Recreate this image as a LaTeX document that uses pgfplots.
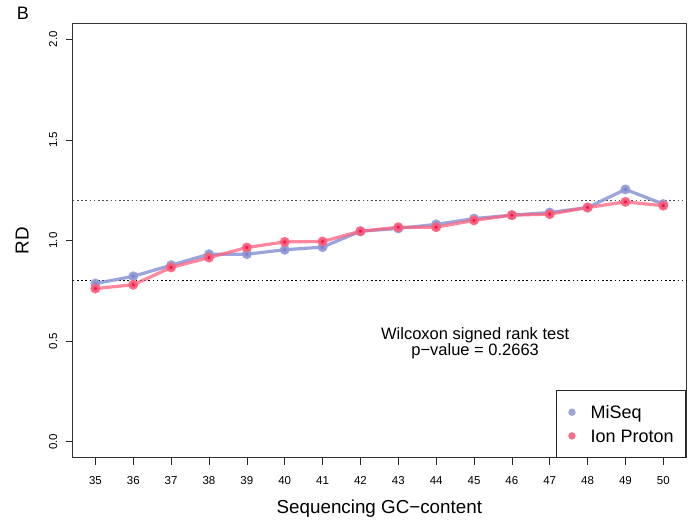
\documentclass[border=0pt]{standalone}
\usepackage{fontspec}
\setmainfont{Liberation Sans}
\usepackage{pgfplots}
\pgfplotsset{compat=1.18}
\definecolor{miseqline}{RGB}{145,155,215}
\definecolor{miseqpt}{RGB}{115,125,200}
\definecolor{ionline}{RGB}{255,95,125}
\definecolor{ionpt}{RGB}{238,10,65}
\pgfplotstableread{
x y
35 0.786
36 0.822
37 0.877
38 0.932
39 0.932
40 0.954
41 0.967
42 1.046
43 1.060
44 1.080
45 1.109
46 1.126
47 1.139
48 1.164
49 1.254
50 1.181
}\miseq
\pgfplotstableread{
x y
35 0.761
36 0.780
37 0.866
38 0.915
39 0.965
40 0.993
41 0.995
42 1.046
43 1.066
44 1.066
45 1.100
46 1.126
47 1.131
48 1.164
49 1.192
50 1.173
}\ion
\begin{document}
\begin{tikzpicture}[x=1bp,y=1bp]
\path[use as bounding box] (0,0) rectangle (695,520);
\node[anchor=base, font=\fontsize{18bp}{20bp}\selectfont] at (23,500.5) {B};
\begin{axis}[
  at={(72.7bp,62.3bp)}, anchor=south west,
  scale only axis, width=613.3bp, height=434.4bp,
  xmin=34.4, xmax=50.6, ymin=-0.08, ymax=2.08,
  xtick={35,36,...,50}, ytick={0,0.5,1,1.5,2},
  yticklabels={0.0,0.5,1.0,1.5,2.0},
  xtick pos=bottom, ytick pos=left,
  tick align=outside, major tick length=7bp,
  tick style={black!85, line width=0.7bp},
  axis line style={black!80, line width=0.7bp},
  /pgf/number format/assume math mode=true,
  ticklabel style={font=\fontsize{11.5bp}{13bp}\selectfont},
  xticklabel style={anchor=base, yshift=-19.4bp},
  yticklabel style={rotate=90, anchor=base, yshift=8.6bp},
  xlabel={Sequencing GC−content},
  ylabel={RD},
  every axis x label/.style={at={(axis description cs:0.5,0)}, anchor=base, yshift=-55.7bp, font=\fontsize{18.8bp}{21bp}\selectfont},
  every axis y label/.style={at={(axis description cs:-0.0717,0.5)}, rotate=90, anchor=base, font=\fontsize{18.8bp}{21bp}\selectfont},
  legend style={at={(axis description cs:1,0)}, anchor=south east,
    draw=black!85, line width=0.7bp, inner xsep=12bp, inner ysep=15bp,
    row sep=10.8bp, column sep=15bp,
    cells={anchor=west},
    nodes={inner sep=0pt, text height=12.9bp, text depth=0pt,
      font=\fontsize{18bp}{20bp}\selectfont}},
  clip=false,
]
\addplot[forget plot, black!70, line width=1bp, dash pattern=on 1.6bp off 2.6bp] coordinates {(34.4,1.2) (50.6,1.2)};
\addplot[forget plot, black, line width=1bp, dash pattern=on 1.6bp off 2.6bp] coordinates {(34.4,0.8) (50.6,0.8)};
\addplot[forget plot, miseqline, line width=3.2bp, opacity=0.9, mark=*, mark size=3.3bp,
  mark options={draw=none, fill=miseqpt, opacity=0.9}] table[x=x,y=y] {\miseq};
\addplot[forget plot, ionline, line width=3.2bp, opacity=0.75, mark=*, mark size=3.3bp,
  mark options={draw=none, fill=ionpt, opacity=0.9}] table[x=x,y=y] {\ion};
\addlegendimage{legend image code/.code={\fill[miseqpt!70!white] (0,0) circle (3.3bp);}}
\addlegendentry{MiSeq}
\addlegendimage{legend image code/.code={\fill[ionpt!60!white] (0,0) circle (3.3bp);}}
\addlegendentry{Ion Proton}
\node[anchor=base, font=\fontsize{16.5bp}{18bp}\selectfont] at (axis cs:45.03,0.510) {Wilcoxon signed rank test};
\node[anchor=base, font=\fontsize{16.5bp}{18bp}\selectfont] at (axis cs:45.03,0.4257) {p−value = 0.2663};
\end{axis}
\end{tikzpicture}
\end{document}
